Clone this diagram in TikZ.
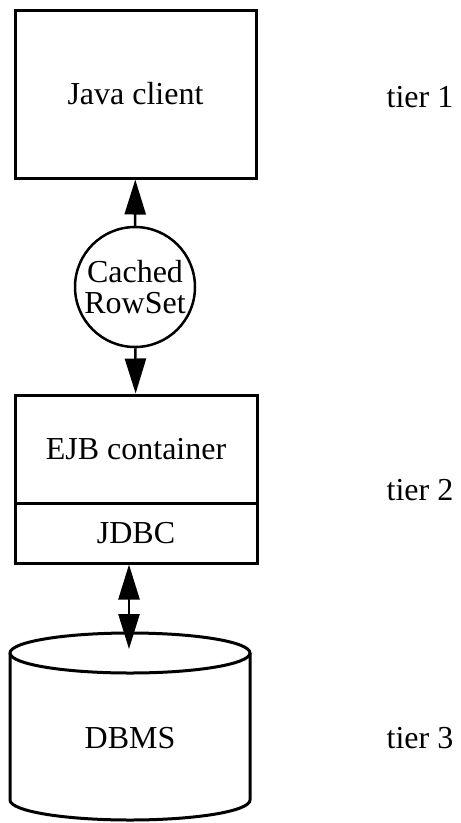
\documentclass[tikz,border=0pt]{standalone}
\usepackage{fontspec}
\setmainfont{Liberation Serif}
\usetikzlibrary{arrows.meta}

\tikzset{
	tierbox/.style={draw, line width=3pt, inner sep=0pt},
	tiertext/.style={font=\fontsize{32}{31}\selectfont},
	link/.style={line width=2.5pt},
	>={Triangle[length=35pt,width=21pt]},
}

\begin{document}
\begin{tikzpicture}[x=1pt, y=1pt, tiertext]
					\useasboundingbox (0,0) rectangle (461,-823);

					\node [tierbox, minimum width=241, minimum height=168] (java) at (135.5,-94) {Java client};
					\node [draw, circle, line width=2.5pt, minimum size=120, inner sep=0pt, align=center] (rowset) at (135,-287) {Cached\\RowSet};
					\node [tierbox, minimum width=242, minimum height=108] (ejb) at (136,-449) {EJB container};
					\node [tierbox, minimum width=242, minimum height=60] (jdbc) at (136,-533) {JDBC};

					\draw [line width=3pt] (10,-653) -- (10,-800) arc [start angle=180, end angle=360, x radius=120, y radius=20] -- (250,-653);
					\draw [line width=3pt] (130,-653) ellipse [x radius=120, y radius=20];
					\node (dbms) at (130,-738) {DBMS};
					\coordinate (dbtop) at (129,-649);

					\draw [link, ->] (rowset) -- (java);
					\draw [link, ->] (rowset) -- (ejb);
					\draw [link, <->] (jdbc.south -| dbtop) -- (dbtop);

					\node (tier1) at (420,-97) {tier 1};
					\node (tier2) at (420,-490) {tier 2};
					\node (tier3) at (420,-738) {tier 3};
				\end{tikzpicture}
\end{document}
